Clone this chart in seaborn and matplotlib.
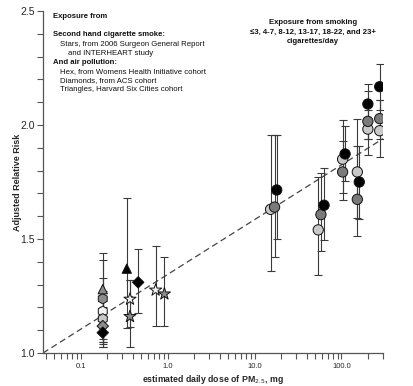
import numpy as np
import pandas as pd
import matplotlib
matplotlib.use("Agg")
import matplotlib.pyplot as plt
import matplotlib.ticker as mticker
import seaborn as sns

# --- smoking: six cigarettes/day categories, three shades of circles ---
cig_dose_light = [15.3, 54, 103, 152, 201, 275]
cig_rr_light = [1.63, 1.54, 1.85, 1.794, 1.982, 1.975]
cig_lo_light = [1.36, 1.342, 1.67, 1.59, 1.87, 1.858]
cig_hi_light = [1.955, 1.77, 2.02, 2.025, 2.066, 2.11]

cig_dose_gray = [17, 58, 103, 152, 201, 275]
cig_rr_gray = [1.64, 1.607, 1.794, 1.674, 2.016, 2.028]
cig_lo_gray = [1.42, 1.449, 1.70, 1.513, 1.94, 1.937]
cig_hi_gray = [1.955, 1.79, 1.93, 1.91, 2.15, 2.11]

cig_dose_black = [18, 63, 110, 160, 201, 275]
cig_rr_black = [1.715, 1.648, 1.873, 1.75, 2.092, 2.168]
cig_lo_black = [1.50, 1.496, 1.753, 1.586, 1.94, 2.066]
cig_hi_black = [1.955, 1.81, 1.996, 1.91, 2.18, 2.266]

# --- second hand smoke (stars) ---
star_dose = [0.37, 0.37, 0.73, 0.92]
star_rr = [1.236, 1.16, 1.276, 1.259]
star_lo = [1.113, 1.028, 1.118, 1.118]
star_hi = [1.32, 1.32, 1.47, 1.42]
star_fill = ["#f2f2f2", "#8c8c8c", "#f2f2f2", "#8c8c8c"]

# --- air pollution cohorts ---
hex_dose = [0.18, 0.18, 0.18]
hex_rr = [1.238, 1.183, 1.15]
hex_lo = [1.06, 1.05, 1.04]
hex_hi = [1.408, 1.33, 1.27]
hex_fill = ["#8c8c8c", "#f2f2f2", "#c8c8c8"]

dia_dose = [0.18, 0.18, 0.46]
dia_rr = [1.118, 1.089, 1.31]
dia_lo = [1.05, 1.028, 1.177]
dia_hi = [1.2, 1.16, 1.455]
dia_fill = ["#8c8c8c", "#000000", "#000000"]

tri_dose = [0.18, 0.34]
tri_rr = [1.28, 1.37]
tri_lo = [1.028, 1.11]
tri_hi = [1.437, 1.68]
tri_fill = ["#8c8c8c", "#000000"]

# fitted dose-response line
fit_dose = [0.037, 300]
fit_rr = [1.0, 1.94]

x_ticks = [0.1, 1.0, 10.0, 100.0]
x_tick_labels = ["0.1", "1.0", "10.0", "100.0"]
y_ticks = [1.0, 1.5, 2.0, 2.5]


def draw_group(ax, dose, rr, lo, hi, fills, marker, size):
    df = pd.DataFrame({"dose": dose, "rr": rr, "lo": lo, "hi": hi, "fill": fills})
    ax.errorbar(df["dose"], df["rr"],
                yerr=[df["rr"] - df["lo"], df["hi"] - df["rr"]],
                fmt="none", ecolor="#3a3a3a", elinewidth=0.8,
                capsize=2.6, capthick=0.8, zorder=2)
    sns.scatterplot(data=df, x="dose", y="rr", hue="fill",
                    palette={c: c for c in df["fill"].unique()},
                    marker=marker, s=size, edgecolor="#111111",
                    linewidth=0.7, legend=False, zorder=3, ax=ax)


def main():
    sns.set_theme(style="ticks")
    plt.rcParams["font.family"] = ["Liberation Sans", "DejaVu Sans"]

    fig = plt.figure(figsize=(4.13, 3.86), dpi=100)
    ax = fig.add_axes([43 / 413, 33 / 386, 340 / 413, 342 / 386])

    sns.lineplot(x=fit_dose, y=fit_rr, ax=ax, color="#444444",
                 linestyle=(0, (5, 3)), linewidth=0.9, zorder=1)

    draw_group(ax, cig_dose_light, cig_rr_light, cig_lo_light, cig_hi_light,
               ["#c8c8c8"] * 6, "o", 55)
    draw_group(ax, cig_dose_gray, cig_rr_gray, cig_lo_gray, cig_hi_gray,
               ["#7a7a7a"] * 6, "o", 55)
    draw_group(ax, cig_dose_black, cig_rr_black, cig_lo_black, cig_hi_black,
               ["#000000"] * 6, "o", 55)
    draw_group(ax, star_dose, star_rr, star_lo, star_hi, star_fill, "*", 85)
    draw_group(ax, hex_dose, hex_rr, hex_lo, hex_hi, hex_fill, "h", 55)
    draw_group(ax, dia_dose, dia_rr, dia_lo, dia_hi, dia_fill, "D", 34)
    draw_group(ax, tri_dose, tri_rr, tri_lo, tri_hi, tri_fill, "^", 45)

    ax.set_xscale("log")
    ax.set_xlim(0.037, 300)
    ax.set_ylim(1.0, 2.5)
    ax.xaxis.set_major_locator(mticker.FixedLocator(x_ticks))
    ax.xaxis.set_major_formatter(mticker.FixedFormatter(x_tick_labels))
    ax.xaxis.set_minor_locator(mticker.LogLocator(base=10, subs=np.arange(2, 10)))
    ax.xaxis.set_minor_formatter(mticker.NullFormatter())
    ax.set_yticks(y_ticks)
    ax.set_yticklabels([f"{v:.1f}" for v in y_ticks])
    ax.yaxis.set_minor_locator(mticker.MultipleLocator(0.1))

    for side in ["top", "right"]:
        ax.spines[side].set_visible(False)
    for side in ["left", "bottom"]:
        ax.spines[side].set_color("#555555")
        ax.spines[side].set_linewidth(0.9)
    ax.tick_params(axis="both", which="both", color="#555555", width=0.8,
                   direction="out")
    ax.tick_params(axis="x", which="both", length=4, labelsize=5.5, pad=3)
    ax.tick_params(axis="y", which="both", length=4, labelsize=7.5, pad=2)

    ax.set_xlabel("estimated daily dose of PM$_{2.5}$, mg", fontsize=6.3,
                  fontweight="bold", labelpad=2)
    ax.set_ylabel("Adjusted Relative Risk", fontsize=6.5, fontweight="bold",
                  labelpad=-1)

    # text blocks
    W, H = 413, 386
    left_lines = [
        ("Exposure from", 53, 17, "bold"),
        ("Second hand cigarette smoke:", 53, 34, "bold"),
        ("Stars, from 2006 Surgeon General Report", 60, 44.5, "normal"),
        ("and INTERHEART study", 68, 53.5, "normal"),
        ("And air pollution:", 53, 62.3, "bold"),
        ("Hex, from Womens Health Initiative cohort", 60, 71.3, "normal"),
        ("Diamonds, from ACS cohort", 60, 80.3, "normal"),
        ("Triangles, Harvard Six Cities cohort", 60, 89.3, "normal"),
    ]
    for txt, px, py, wt in left_lines:
        fig.text(px / W, 1 - py / H, txt, fontsize=5.6, fontweight=wt,
                 ha="left", va="center", color="#111111")

    right_lines = [
        ("Exposure from smoking", 22.7),
        ("\u22643, 4-7, 8-12, 13-17, 18-22, and 23+", 32.3),
        ("cigarettes/day", 41.7),
    ]
    for txt, py in right_lines:
        fig.text(313 / W, 1 - py / H, txt, fontsize=5.6, fontweight="bold",
                 ha="center", va="center", color="#111111")

    fig.savefig("out.png", dpi=100)


if __name__ == "__main__":
    main()
